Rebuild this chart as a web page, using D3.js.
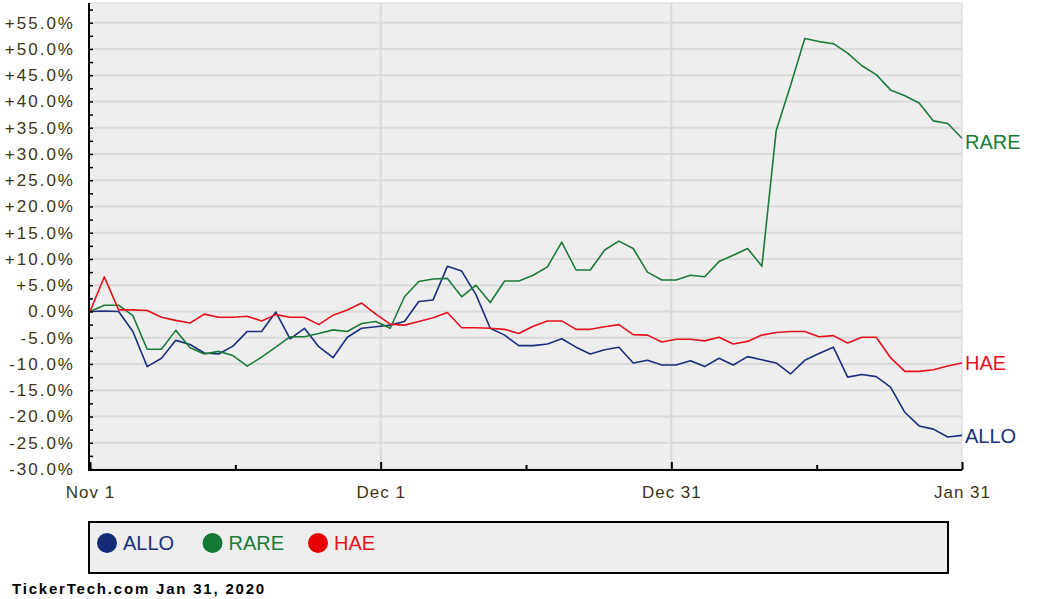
<!DOCTYPE html>
<html>
<head>
    <meta charset="utf-8">
    <title>ALLO, RARE, HAE relative performance</title>
    <style>
        body {
            margin: 0;
            background: #ffffff;
            font-family: "Liberation Sans", Arial, sans-serif;
        }
        svg {
            display: block;
        }
        .y .domain, .x .domain {
            display: none;
        }
        .y .tick text, .x .tick text {
            fill: #3d3515;
            font-size: 17px;
            letter-spacing: 2px;
            font-family: "Liberation Sans", Arial, sans-serif;
        }
        .x .tick text {
            letter-spacing: 1px;
        }
        .ylabel {
            font-size: 20px;
        }
    </style>
</head>
<body>
<svg width="1058" height="599"></svg>

<script src="https://d3js.org/d3.v7.min.js"></script>
<script>
    // daily % change since Nov 1, one value per trading day
    let allo = [0, 0.1, 0, -3.8, -10.5, -8.9, -5.5, -6.3, -7.9, -8.1, -6.6, -3.8, -3.8, -0.1, -5.2, -3.2,
        -6.7, -8.8, -4.9, -3.2, -2.9, -2.6, -1.9, 1.9, 2.2, 8.6, 7.7, 3.2, -3.2, -4.5, -6.5, -6.5,
        -6.2, -5.2, -6.8, -8.1, -7.3, -6.8, -9.8, -9.3, -10.2, -10.2, -9.4, -10.5, -8.9, -10.2, -8.6,
        -9.2, -9.8, -11.9, -9.3, -8.0, -6.8, -12.5, -12.0, -12.4, -14.4, -19.2, -21.8, -22.4, -23.9, -23.6];

    let rare = [0, 1.2, 1.2, -0.8, -7.2, -7.2, -3.6, -6.9, -8.1, -7.6, -8.4, -10.4, -8.7, -6.8, -4.8, -4.8,
        -4.2, -3.5, -3.8, -2.3, -1.9, -3.2, 2.8, 5.7, 6.2, 6.3, 2.8, 5.0, 1.7, 5.8, 5.8, 6.9,
        8.5, 13.2, 7.9, 7.9, 11.7, 13.4, 12.0, 7.5, 6.0, 6.0, 6.9, 6.6, 9.5, 10.7, 12.0,
        8.6, 34.4, 43.0, 52.0, 51.4, 51.0, 49.2, 46.8, 45.1, 42.2, 41.1, 39.7, 36.3, 35.8, 33.0];

    let hae = [0, 6.6, 0.3, 0.3, 0.2, -1.1, -1.7, -2.2, -0.5, -1.1, -1.1, -0.9, -1.8, -0.6, -1.1, -1.1,
        -2.5, -0.7, 0.3, 1.6, -0.5, -2.4, -2.6, -1.9, -1.2, -0.2, -3.1, -3.1, -3.2, -3.4, -4.2, -2.8,
        -1.8, -1.8, -3.4, -3.4, -2.9, -2.5, -4.4, -4.5, -5.8, -5.3, -5.3, -5.6, -4.9, -6.2, -5.7,
        -4.5, -4.0, -3.8, -3.8, -4.8, -4.6, -6.0, -4.9, -4.9, -8.8, -11.4, -11.4, -11.1, -10.4, -9.8];

    let tickers = ["ALLO", "RARE", "HAE"];
    let colors = ["#1b2f7d", "#1c7b38", "#e3121c"];
    let legendColors = ["#142c78", "#127a35", "#e60000"];

    let xTickLabels = ["Nov 1", "Dec 1", "Dec 31", "Jan 31"];
    let yTicks = [-30, -25, -20, -15, -10, -5, 0, 5, 10, 15, 20, 25, 30, 35, 40, 45, 50, 55];

    let seriesList = [allo, rare, hae];
    let nPts = allo.length;

    let svg = d3.select("svg");
    let plot = { left: 89, right: 962, top: 3, bottom: 469 };

    let x = d3.scaleLinear()
        .domain([0, nPts - 1])
        .range([plot.left + 1, plot.right]);

    let y = d3.scaleLinear()
        .domain([-30, 58.75])
        .range([plot.bottom, plot.top]);

    // plot background
    svg.append("rect")
        .attr("x", plot.left)
        .attr("y", plot.top)
        .attr("width", plot.right - plot.left)
        .attr("height", plot.bottom - plot.top)
        .attr("fill", "#eeeeee")
        .attr("stroke", "#d6d6d6")
        .attr("stroke-width", 1);

    // horizontal grid
    svg.append("g")
        .selectAll("line")
        .data(yTicks.filter(d => d > -30))
        .join("line")
        .attr("x1", plot.left)
        .attr("x2", plot.right)
        .attr("y1", d => y(d))
        .attr("y2", d => y(d))
        .attr("stroke", "#dadada")
        .attr("stroke-width", 2);

    // x tick positions: labels split the range into thirds
    let xMajor = xTickLabels.map((d, i) => i * (nPts - 1) / (xTickLabels.length - 1));
    let xMinor = xMajor.slice(1).map((d, i) => (d + xMajor[i]) / 2);

    // vertical grid at the inner month ticks
    svg.append("g")
        .selectAll("line")
        .data(xMajor.slice(1, -1))
        .join("line")
        .attr("x1", d => x(d))
        .attr("x2", d => x(d))
        .attr("y1", plot.top)
        .attr("y2", plot.bottom)
        .attr("stroke", "#dadada")
        .attr("stroke-width", 2);

    // lines
    let line = d3.line()
        .x((d, i) => x(i))
        .y(d => y(d));

    svg.append("g")
        .selectAll("path")
        .data(seriesList)
        .join("path")
        .attr("d", d => line(d))
        .attr("fill", "none")
        .attr("stroke", (d, i) => colors[i])
        .attr("stroke-width", 1.6)
        .attr("stroke-linejoin", "round");

    // end labels
    svg.append("g")
        .selectAll("text")
        .data(seriesList)
        .join("text")
        .attr("class", "ylabel")
        .attr("x", plot.right + 3)
        .attr("y", d => y(d[d.length - 1]))
        .attr("dy", (d, i) => i == 1 ? "0.55em" : "0.36em")
        .attr("fill", (d, i) => colors[i])
        .text((d, i) => tickers[i]);

    // y axis
    let fmt = v => (v > 0 ? "+" : "") + v.toFixed(1) + "%";
    svg.append("g")
        .attr("class", "y axis")
        .attr("transform", `translate(${plot.left},0)`)
        .call(d3.axisLeft(y).tickValues(yTicks).tickFormat(fmt).tickSize(-4).tickPadding(14))
        .call(g => g.selectAll(".tick line").attr("stroke", "#000").attr("stroke-width", 1.5));

    svg.append("g")
        .attr("transform", `translate(${plot.left},0)`)
        .call(d3.axisLeft(y).tickValues(yTicks.map(d => d + 2.5).filter(d => d < 58)).tickFormat("").tickSize(-4))
        .call(g => g.select(".domain").remove())
        .call(g => g.selectAll(".tick line").attr("stroke", "#000").attr("stroke-width", 1.5));

    // x axis
    svg.append("g")
        .attr("class", "x axis")
        .attr("transform", `translate(0,${plot.bottom + 1})`)
        .call(d3.axisBottom(x).tickValues(xMajor).tickFormat((d, i) => xTickLabels[i]).tickSize(-8).tickPadding(16))
        .call(g => g.selectAll(".tick line").attr("stroke", "#000").attr("stroke-width", 2));

    svg.append("g")
        .attr("transform", `translate(0,${plot.bottom + 1})`)
        .call(d3.axisBottom(x).tickValues(xMinor).tickFormat("").tickSize(-5))
        .call(g => g.select(".domain").remove())
        .call(g => g.selectAll(".tick line").attr("stroke", "#000").attr("stroke-width", 2));

    // axis lines
    svg.append("line")
        .attr("x1", plot.left).attr("x2", plot.left)
        .attr("y1", plot.top).attr("y2", plot.bottom + 2)
        .attr("stroke", "#000").attr("stroke-width", 2);
    svg.append("line")
        .attr("x1", plot.left).attr("x2", plot.right)
        .attr("y1", plot.bottom + 1).attr("y2", plot.bottom + 1)
        .attr("stroke", "#000").attr("stroke-width", 2);

    // legend
    let legend = svg.append("g");
    legend.append("rect")
        .attr("x", 89)
        .attr("y", 522)
        .attr("width", 859)
        .attr("height", 51)
        .attr("fill", "#eeeeee")
        .attr("stroke", "#000")
        .attr("stroke-width", 2);

    let item = legend.selectAll("g")
        .data(tickers)
        .join("g")
        .attr("transform", (d, i) => `translate(${107 + i * 105.5},543)`);

    item.append("circle")
        .attr("r", 10)
        .attr("fill", (d, i) => legendColors[i]);

    item.append("text")
        .attr("x", 16)
        .attr("dy", "0.36em")
        .attr("font-size", 20)
        .attr("fill", (d, i) => colors[i])
        .text(d => d);

    // footer
    svg.append("text")
        .attr("x", 12)
        .attr("y", 594)
        .attr("font-size", 15)
        .attr("font-weight", "bold")
        .attr("letter-spacing", 1.8)
        .attr("fill", "#000")
        .text("TickerTech.com  Jan 31, 2020");
</script>
</body>
</html>
